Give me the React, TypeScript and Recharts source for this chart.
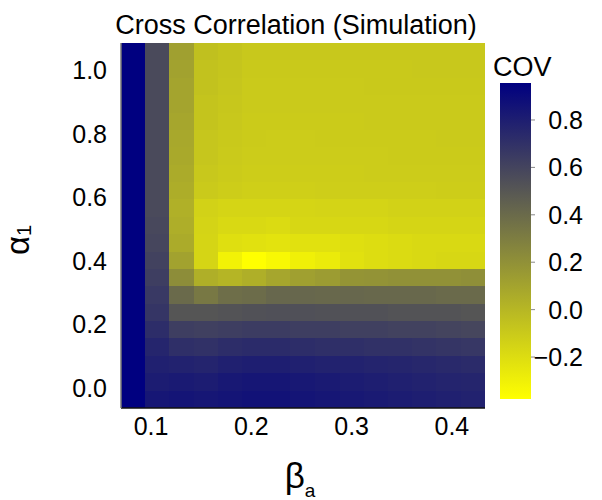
import React from 'react';
import { ScatterChart, Scatter, XAxis, YAxis, ReferenceArea } from 'recharts';

// beta_a (columns) and alpha_1 (rows, top to bottom)
const betaA = [0.082, 0.106, 0.130, 0.155, 0.179, 0.203, 0.227, 0.251, 0.276, 0.300, 0.324, 0.348, 0.372, 0.397, 0.421];
const alpha1 = [1.058, 1.003, 0.949, 0.894, 0.839, 0.785, 0.730, 0.675, 0.620, 0.566, 0.511, 0.456, 0.402, 0.347, 0.292, 0.238, 0.183, 0.128, 0.073, 0.019, -0.036];

// COV values, one row per alpha_1 (same order as alpha1), one value per beta_a
const covRows = [
  [0.956, 0.57, 0.12, -0.05, -0.07, -0.09, -0.09, -0.09, -0.09, -0.09, -0.09, -0.09, -0.09, -0.09, -0.09],
  [0.956, 0.57, 0.11, -0.06, -0.075, -0.095, -0.095, -0.095, -0.095, -0.095, -0.095, -0.095, -0.09, -0.09, -0.09],
  [0.955, 0.57, 0.10, -0.06, -0.08, -0.10, -0.10, -0.10, -0.10, -0.10, -0.095, -0.095, -0.095, -0.095, -0.095],
  [0.955, 0.57, 0.10, -0.07, -0.085, -0.10, -0.10, -0.10, -0.10, -0.10, -0.10, -0.10, -0.10, -0.10, -0.10],
  [0.955, 0.57, 0.09, -0.07, -0.09, -0.105, -0.105, -0.105, -0.105, -0.105, -0.10, -0.10, -0.10, -0.10, -0.10],
  [0.955, 0.57, 0.08, -0.08, -0.095, -0.105, -0.11, -0.11, -0.105, -0.105, -0.105, -0.105, -0.105, -0.10, -0.10],
  [0.955, 0.57, 0.07, -0.08, -0.10, -0.11, -0.11, -0.11, -0.11, -0.11, -0.11, -0.105, -0.105, -0.105, -0.105],
  [0.955, 0.57, 0.06, -0.09, -0.105, -0.115, -0.115, -0.115, -0.115, -0.115, -0.11, -0.11, -0.11, -0.11, -0.11],
  [0.955, 0.57, 0.05, -0.10, -0.115, -0.125, -0.125, -0.125, -0.12, -0.12, -0.12, -0.12, -0.12, -0.115, -0.115],
  [0.955, 0.57, 0.035, -0.14, -0.16, -0.16, -0.16, -0.16, -0.15, -0.15, -0.15, -0.14, -0.14, -0.14, -0.14],
  [0.955, 0.58, 0.045, -0.15, -0.18, -0.18, -0.19, -0.17, -0.17, -0.17, -0.17, -0.16, -0.16, -0.16, -0.16],
  [0.955, 0.59, 0.06, -0.16, -0.21, -0.22, -0.23, -0.22, -0.22, -0.21, -0.20, -0.19, -0.18, -0.18, -0.18],
  [0.955, 0.61, 0.11, -0.16, -0.31, -0.377, -0.34, -0.30, -0.27, -0.22, -0.20, -0.19, -0.18, -0.17, -0.17],
  [0.955, 0.63, 0.22, 0.04, 0.01, 0.04, 0.09, 0.12, 0.14, 0.18, 0.19, 0.20, 0.20, 0.20, 0.21],
  [0.955, 0.66, 0.40, 0.33, 0.38, 0.39, 0.42, 0.42, 0.41, 0.42, 0.41, 0.41, 0.41, 0.40, 0.40],
  [0.955, 0.68, 0.51, 0.51, 0.52, 0.53, 0.54, 0.54, 0.53, 0.53, 0.53, 0.52, 0.52, 0.52, 0.51],
  [0.955, 0.72, 0.63, 0.62, 0.63, 0.64, 0.64, 0.63, 0.63, 0.62, 0.62, 0.61, 0.61, 0.60, 0.59],
  [0.955, 0.76, 0.71, 0.70, 0.72, 0.73, 0.73, 0.72, 0.71, 0.71, 0.70, 0.70, 0.69, 0.68, 0.67],
  [0.955, 0.79, 0.78, 0.77, 0.79, 0.80, 0.80, 0.79, 0.78, 0.78, 0.77, 0.76, 0.75, 0.74, 0.73],
  [0.955, 0.81, 0.82, 0.81, 0.83, 0.84, 0.84, 0.83, 0.82, 0.81, 0.80, 0.79, 0.78, 0.77, 0.76],
  [0.955, 0.84, 0.85, 0.84, 0.85, 0.86, 0.86, 0.85, 0.84, 0.83, 0.82, 0.81, 0.80, 0.79, 0.78],
];

const xTicks = [0.1, 0.2, 0.3, 0.4];
const yTicks = [0.0, 0.2, 0.4, 0.6, 0.8, 1.0];
const covTicks = [-0.2, 0.0, 0.2, 0.4, 0.6, 0.8];
const covLimits = [-0.377, 0.956];

const LOW = [255, 255, 0];   // yellow
const HIGH = [0, 0, 128];    // navy
const FONT = '"Liberation Sans", Arial, sans-serif';

function covColor(v: number) {
  const t = Math.max(0, Math.min(1, (v - covLimits[0]) / (covLimits[1] - covLimits[0])));
  const c = LOW.map((lo, i) => Math.round(lo + (HIGH[i] - lo) * t));
  return `rgb(${c[0]},${c[1]},${c[2]})`;
}

// half-way edges between cell centres
function edges(centres: number[]) {
  return centres.map((c, i) => {
    const prev = i > 0 ? centres[i - 1] : c - (centres[1] - centres[0]);
    const next = i < centres.length - 1 ? centres[i + 1] : c + (c - centres[i - 1]);
    return [(prev + c) / 2, (c + next) / 2];
  });
}

const xEdges = edges(betaA);
const yEdges = edges(alpha1);

const cells = covRows.flatMap((row, r) =>
  row.map((v, c) => ({
    x: betaA[c],
    y: alpha1[r],
    v,
    x1: xEdges[c][0],
    x2: xEdges[c][1],
    y1: Math.min(yEdges[r][0], yEdges[r][1]),
    y2: Math.max(yEdges[r][0], yEdges[r][1]),
  }))
);

const xDomain = [xEdges[0][0], xEdges[xEdges.length - 1][1]];
const yDomain = [Math.min(...yEdges.flat()), Math.max(...yEdges.flat())];

const fmt = (v: number) => (v < 0 ? '\u2212' : '') + Math.abs(v).toFixed(1);

// cell rect, snapped to whole pixels so neighbours meet without seams
const CellShape = (props: any) => {
  const { x, y, width, height, fill } = props;
  const x0 = Math.round(x);
  const y0 = Math.round(y);
  const x1 = Math.round(x + width);
  const y1 = Math.round(y + height);
  return <rect x={x0} y={y0} width={x1 - x0} height={y1 - y0} fill={fill} shapeRendering="crispEdges" />;
};

const CovTick = (props: any) => {
  const { x, y, payload } = props;
  return (
    <text x={x + 46} y={y} textAnchor="end" dominantBaseline="central" fontSize={25} fontFamily={FONT} fill="#000">
      {fmt(payload.value)}
    </text>
  );
};

export default function App() {
  return (
    <div style={{ position: 'absolute', left: 0, top: 0, width: 602, height: 500, background: '#fff', fontFamily: FONT }}>
      <svg width={0} height={0} style={{ position: 'absolute' }}>
        <defs>
          <linearGradient id="covGrad" x1="0" y1="0" x2="0" y2="1">
            <stop offset="0%" stopColor={covColor(covLimits[1])} />
            <stop offset="100%" stopColor={covColor(covLimits[0])} />
          </linearGradient>
        </defs>
      </svg>

      <div style={{ position: 'absolute', left: 0, top: 0 }}>
        <ScatterChart width={602} height={500} margin={{ top: 43, right: 117, bottom: 0, left: 0 }}>
          <XAxis
            type="number"
            dataKey="x"
            domain={xDomain}
            ticks={xTicks}
            allowDataOverflow
            height={92}
            tickSize={0}
            tickMargin={9}
            tickLine={false}
            axisLine={{ stroke: '#111', strokeWidth: 1.5 }}
            tick={{ fontSize: 25, fill: '#000', fontFamily: FONT }}
            tickFormatter={(v: number) => v.toFixed(1)}
          />
          <YAxis
            type="number"
            dataKey="y"
            domain={yDomain}
            ticks={yTicks}
            allowDataOverflow
            width={121}
            tickSize={0}
            tickMargin={14}
            tickLine={false}
            axisLine={{ stroke: '#777', strokeWidth: 1.5 }}
            tick={{ fontSize: 25, fill: '#000', fontFamily: FONT }}
            tickFormatter={(v: number) => v.toFixed(1)}
          />
          {cells.map((d, i) => (
            <ReferenceArea
              key={i}
              x1={d.x1}
              x2={d.x2}
              y1={d.y1}
              y2={d.y2}
              fill={covColor(d.v)}
              fillOpacity={1}
              ifOverflow="visible"
              shape={<CellShape />}
            />
          ))}
          <Scatter data={cells} isAnimationActive={false} shape={() => <g />} />
        </ScatterChart>
      </div>

      <div style={{ position: 'absolute', left: 490, top: 0 }}>
        <ScatterChart width={112} height={500} margin={{ top: 83, right: 0, bottom: 101, left: 10 }}>
          <XAxis type="number" dataKey="x" domain={[0, 1]} hide />
          <YAxis
            type="number"
            dataKey="y"
            orientation="right"
            domain={covLimits}
            ticks={covTicks}
            allowDataOverflow
            width={71}
            tickSize={4}
            tickMargin={2}
            axisLine={false}
            tickLine={{ stroke: '#888' }}
            tick={<CovTick />}
          />
          <ReferenceArea x1={0} x2={1} y1={covLimits[0]} y2={covLimits[1]} fill="url(#covGrad)" fillOpacity={1} stroke="none" ifOverflow="visible" />
          <Scatter data={[{ x: 0.5, y: 0 }]} isAnimationActive={false} shape={() => <g />} />
        </ScatterChart>
      </div>

      <svg width={602} height={500} style={{ position: 'absolute', left: 0, top: 0, pointerEvents: 'none' }} fontFamily={FONT}>
        <text x={296} y={34} textAnchor="middle" fontSize={27} fill="#000">
          Cross Correlation (Simulation)
        </text>
        <text x={493} y={76} fontSize={27} fill="#000">COV</text>
        <text x={300} y={488} textAnchor="middle" fontSize={35} fill="#000">
          β<tspan fontSize={19} dy={9}>a</tspan>
        </text>
        <text transform="translate(29,240) rotate(-90)" textAnchor="middle" fontSize={33} fill="#000">
          α<tspan fontSize={20} dy={2}>1</tspan>
        </text>
      </svg>
    </div>
  );
}
